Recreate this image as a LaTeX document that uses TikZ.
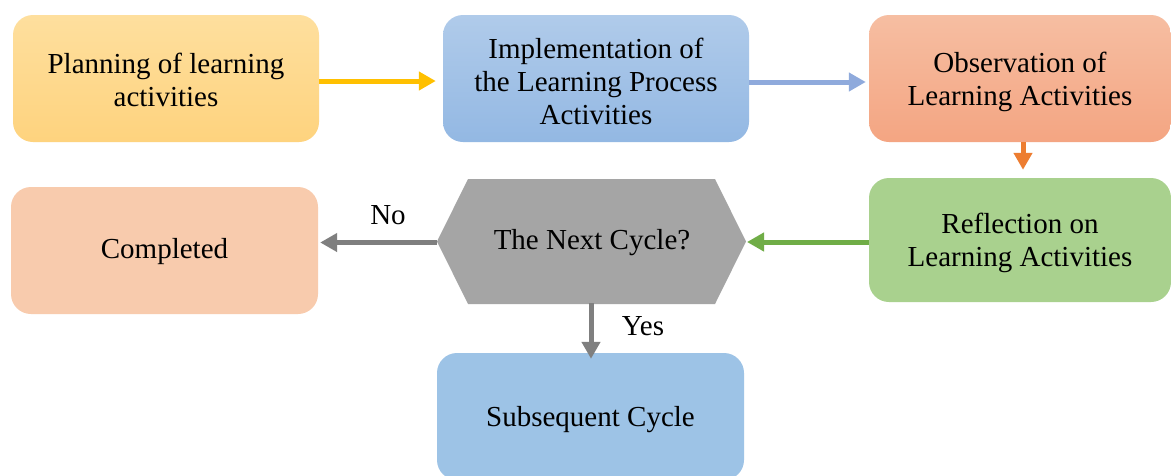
\documentclass[tikz,border=0pt]{standalone}
\usepackage{fontspec}
\setmainfont{Liberation Serif}
\usetikzlibrary{arrows.meta}
\definecolor{yelTop}{HTML}{FEDF9E}
\definecolor{yelBot}{HTML}{FED37E}
\definecolor{bluTop}{HTML}{B0CBEA}
\definecolor{bluBot}{HTML}{93B8E3}
\definecolor{salTop}{HTML}{F6BEA2}
\definecolor{salBot}{HTML}{F4A582}
\definecolor{grnFill}{HTML}{A9D18E}
\definecolor{peachFill}{HTML}{F8CBAD}
\definecolor{skyFill}{HTML}{9DC3E6}
\definecolor{hexFill}{HTML}{A5A5A5}
\definecolor{arrYel}{HTML}{FFC000}
\definecolor{arrBlu}{HTML}{8FAADC}
\definecolor{arrOra}{HTML}{ED7D31}
\definecolor{arrGrn}{HTML}{70AD47}
\definecolor{arrGry}{HTML}{7F7F7F}
\tikzset{
  stepbox/.style={rectangle, rounded corners=20pt, draw=none, inner sep=0pt},
  flowarrow/.style={line width=5pt, -{Triangle[length=17pt,width=18pt]}},
  lbl/.style={font=\fontsize{29}{33}\selectfont, inner sep=0pt, align=center}
}
\begin{document}
\begin{tikzpicture}[x=1pt,y=-1pt]
  \clip (0,0) rectangle (1171,475);
  \fill[white] (0,0) rectangle (1171,475);

  % top row
  \node[stepbox, minimum width=306pt, minimum height=127pt,
        top color=yelTop, bottom color=yelBot] (plan) at (166,78.5) {};
  \node[stepbox, minimum width=306pt, minimum height=127pt,
        top color=bluTop, bottom color=bluBot] (impl) at (596,78.5) {};
  \node[stepbox, minimum width=302pt, minimum height=127pt,
        top color=salTop, bottom color=salBot] (obs) at (1020,78.5) {};

  % middle row
  \node[stepbox, minimum width=302pt, minimum height=124pt,
        fill=grnFill] (refl) at (1020,240) {};
  \node[stepbox, minimum width=307pt, minimum height=127pt,
        fill=peachFill] (done) at (164.5,250.5) {};

  % decision hexagon
  \fill[hexFill] (468,179) -- (715,179) -- (746,241.5) -- (715,304)
        -- (468,304) -- (437,241.5) -- cycle;
  \coordinate (hexL) at (437,242.5);
  \coordinate (hexR) at (747,242);
  \coordinate (hexB) at (591,303);

  % bottom box
  \node[stepbox, minimum width=307pt, minimum height=127pt,
        fill=skyFill] (next) at (590.5,416.5) {};

  % box texts
  \node[lbl] (planText) at ([yshift=-1pt]plan.center) {Planning of learning\\activities};
  \node[lbl] (implText) at ([yshift=-3pt]impl.center) {Implementation of\\the Learning Process\\Activities};
  \node[lbl] (obsText) at ([yshift=-3pt]obs.center) {Observation of\\Learning Activities};
  \node[lbl] (reflText) at ([yshift=-3pt]refl.center) {Reflection on\\Learning Activities};
  \node[lbl] (doneText) at ([yshift=-1pt]done.center) {Completed};
  \node[lbl] (ask) at (592,243) {The Next Cycle?};
  \node[lbl] (nextText) at (590.5,419.5) {Subsequent Cycle};

  % connectors
  \draw[flowarrow, arrYel] (plan.east |- 0,81) -- ([xshift=-7pt]impl.west |- 0,81);
  \draw[flowarrow, arrBlu] (impl.east |- 0,82) -- ([xshift=-3pt]obs.west |- 0,82);
  \draw[flowarrow, arrOra] (1023,142) -- ([yshift=8pt]refl.north -| 1023,0);
  \draw[flowarrow, arrGrn] (refl.west |- 0,242) -- (hexR);
  \draw[flowarrow, arrGry] (hexL) -- ([xshift=2pt]done.east |- 0,242.5);
  \draw[flowarrow, arrGry] (hexB) -- ([yshift=-6pt]next.north -| 591,0);

  \node[lbl] (no) at (388,215) {No};
  \node[lbl] (yes) at (643,326) {Yes};
\end{tikzpicture}
\end{document}
